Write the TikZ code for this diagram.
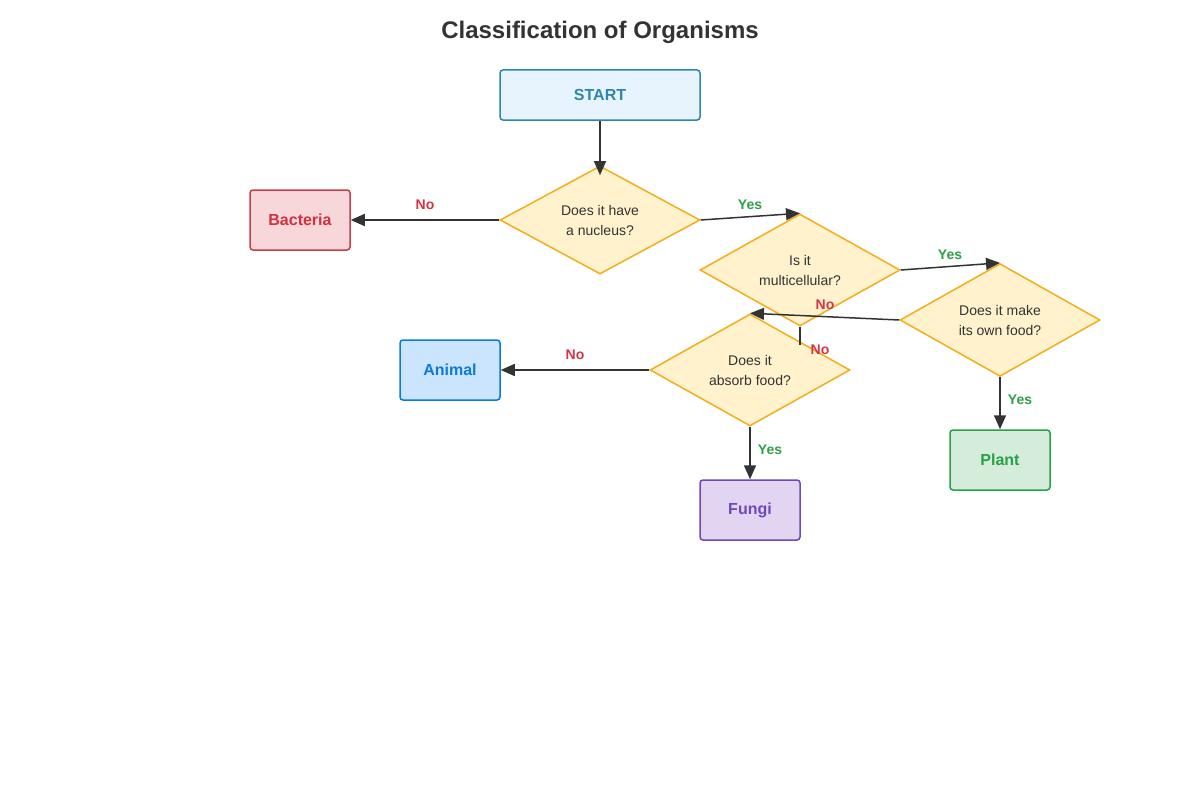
\documentclass[tikz,border=0pt]{standalone}
\usepackage{fontspec}
\setmainfont{Liberation Sans}
\usetikzlibrary{shapes.geometric,arrows.meta}
\definecolor{dq}{HTML}{FFF2CC}
\definecolor{dqb}{HTML}{F2AE1C}
\definecolor{edge}{HTML}{333333}
\definecolor{nored}{HTML}{D43344}
\definecolor{yesgr}{HTML}{2EA04A}
\tikzset{
 box/.style={rectangle,rounded corners=3pt,line width=1.5pt,minimum width=100pt,minimum height=60pt,inner sep=0pt,font=\fontsize{16}{18}\selectfont\bfseries},
 q/.style={diamond,draw=dqb,fill=dq,line width=1.5pt,minimum width=200pt,minimum height=100pt,inner sep=0pt,align=center,font=\fontsize{14}{20}\selectfont,text=edge},
 arr/.style={draw=edge,line width=1.5pt,-{Triangle[length=14pt,width=12pt]}},
 ln/.style={draw=edge,line width=1.5pt},
 nol/.style={text=nored,font=\fontsize{14}{16}\selectfont\bfseries},
 yesl/.style={text=yesgr,font=\fontsize{14}{16}\selectfont\bfseries},
}
\begin{document}
\begin{tikzpicture}[x=1pt,y=-1pt]
\useasboundingbox (0,0) rectangle (1200,800);
\fill[white] (0,0) rectangle (1200,800);
\node[font=\fontsize{24}{28}\selectfont\bfseries,text=edge] (title) at (600,32) {Classification of Organisms};
\node[box,draw={rgb,255:red,46;green,134;blue,171},fill={rgb,255:red,232;green,244;blue,253},text={rgb,255:red,46;green,134;blue,171},minimum width=200pt,minimum height=50pt] (start) at (600,95) {START};
\node[q] (nuc) at (600,220) {Does it have\\a nucleus?};
\node[q] (mul) at (800,270) {Is it\\multicellular?};
\node[q] (food) at (1000,320) {Does it make\\its own food?};
\node[q] (abs) at (750,370) {Does it\\absorb food?};
\node[box,draw={rgb,255:red,200;green,60;blue,75},fill={rgb,255:red,248;green,215;blue,218},text={rgb,255:red,205;green,50;blue,65}] (bac) at (300,220) {Bacteria};
\node[box,draw={rgb,255:red,10;green,123;blue,216},fill={rgb,255:red,204;green,229;blue,255},text={rgb,255:red,10;green,123;blue,216}] (ani) at (450,370) {Animal};
\node[box,draw={rgb,255:red,112;green,72;blue,184},fill={rgb,255:red,226;green,213;blue,241},text={rgb,255:red,112;green,72;blue,184}] (fun) at (750,510) {Fungi};
\node[box,draw={rgb,255:red,40;green,160;blue,70},fill={rgb,255:red,212;green,237;blue,218},text={rgb,255:red,40;green,160;blue,70}] (pla) at (1000,460) {Plant};
\begin{scope}[on background layer/.style={}]
\end{scope}
\draw[arr] (start.south) -- ([yshift=-10pt]nuc.north);
\draw[arr] (nuc.west) -- (bac.east);
\draw[arr] (nuc.east) -- (mul.north);
\draw[arr] (mul.east) -- (food.north);
\draw[arr] (food.west) -- (abs.north);
\draw[arr] (abs.west) -- (ani.east);
\draw[arr] (abs.south) -- (fun.north);
\draw[arr] (food.south) -- (pla.north);
\coordinate (mulend) at (800,345);
\draw[ln] (mul.south) -- (mulend);
\node[nol] (l1) at (425,205) {No};
\node[yesl] (l2) at (750,205) {Yes};
\node[yesl] (l3) at (950,255) {Yes};
\node[nol] (l4) at (825,305) {No};
\node[nol] (l5) at (820,350) {No};
\node[nol] (l6) at (575,355) {No};
\node[yesl] (l7) at (770,450) {Yes};
\node[yesl] (l8) at (1020,400) {Yes};
\end{tikzpicture}
\end{document}
